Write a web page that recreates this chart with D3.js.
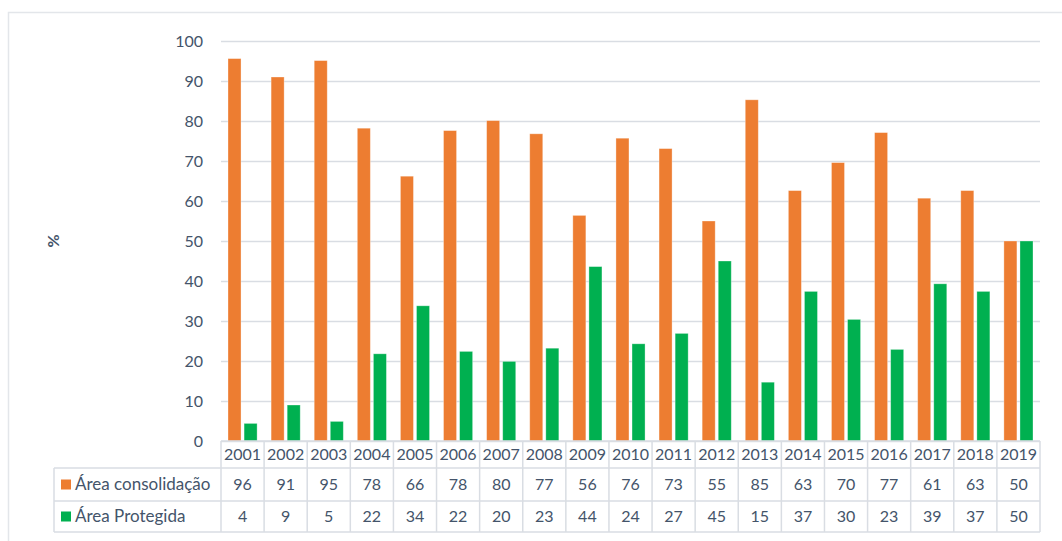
<!DOCTYPE html>
<html>
<head>
<meta charset="utf-8">
<script src="https://cdn.jsdelivr.net/npm/d3@7"></script>
<style>
	body { margin: 0; background: #fff; }
	text { font-family: Lato, "Open Sans", sans-serif; fill: #44546a; }
</style>
</head>
<body>
<div id="chart"></div>
<script>
"use strict";

const years = ['2001', '2002', '2003', '2004', '2005', '2006', '2007', '2008', '2009', '2010',
	'2011', '2012', '2013', '2014', '2015', '2016', '2017', '2018', '2019'];
const seriesNames = ['Área consolidação', 'Área Protegida'];
const seriesColors = ['#ed7d31', '#00b050'];
// bar heights (table shows them rounded)
const consolidacao = [95.6, 91.0, 95.1, 78.2, 66.2, 77.6, 80.1, 76.8, 56.4, 75.7,
	73.1, 55.0, 85.3, 62.6, 69.6, 77.1, 60.7, 62.6, 50.0];
const protegida = [4.4, 9.0, 4.9, 21.8, 33.8, 22.4, 19.9, 23.2, 43.6, 24.3,
	26.9, 45.0, 14.7, 37.4, 30.4, 22.9, 39.3, 37.4, 50.0];
const yTicks = [0, 10, 20, 30, 40, 50, 60, 70, 80, 90, 100];

const series = [consolidacao, protegida];

const W = 1062, H = 541;
const PLOT = { left: 221, right: 1040, top: 41, bottom: 441 };
const TABLE = { left: 54, rowH: [27, 33, 31] };
const GRID = '#d9dde3';

const svg = d3.select('#chart').append('svg')
	.attr('width', W)
	.attr('height', H);

// outer frame
svg.append('path')
	.attr('d', `M8.5,${H}V12.5H${W}`)
	.attr('fill', 'none')
	.attr('stroke', '#e3e6ea')
	.attr('stroke-width', 1.5);

const x = d3.scaleBand()
	.domain(years)
	.range([PLOT.left, PLOT.right]);

const bw = x.bandwidth();
const x1 = d3.scaleBand()
	.domain(d3.range(series.length))
	.range([7, bw - 7])
	.paddingInner(0.19);

const y = d3.scaleLinear()
	.domain([0, 100])
	.range([PLOT.bottom, PLOT.top]);

// grid + y labels
const yAxis = svg.append('g')
	.attr('transform', `translate(${PLOT.left},0)`)
	.call(d3.axisLeft(y).tickValues(yTicks).tickSize(-(PLOT.right - PLOT.left)).tickPadding(18));
yAxis.select('.domain').remove();
yAxis.selectAll('.tick line').attr('stroke', GRID).attr('stroke-width', 1.5);
yAxis.selectAll('.tick text')
	.attr('font-size', 16)
	.attr('font-family', 'Lato, sans-serif')
	.attr('fill', '#44546a');

svg.append('text')
	.attr('transform', `translate(59,${y(50)}) rotate(-90)`)
	.attr('text-anchor', 'middle')
	.attr('font-size', 16)
	.attr('font-weight', 'bold')
	.text('%');

// bars
series.forEach((vals, si) => {
	svg.append('g')
		.selectAll('rect')
		.data(vals)
		.join('rect')
		.attr('x', (d, i) => x(years[i]) + x1(si))
		.attr('y', d => y(d))
		.attr('width', x1.bandwidth())
		.attr('height', d => y(0) - y(d))
		.attr('fill', seriesColors[si])
		.attr('stroke', '#fff')
		.attr('stroke-opacity', 0.4)
		.attr('stroke-width', 0.8);
});

// data table
const rowY = [PLOT.bottom];
TABLE.rowH.forEach(h => rowY.push(rowY[rowY.length - 1] + h));
const tbl = svg.append('g').attr('stroke', GRID).attr('stroke-width', 1.5);

tbl.append('line')
	.attr('x1', PLOT.left).attr('x2', PLOT.right)
	.attr('y1', rowY[0]).attr('y2', rowY[0]);
rowY.slice(1).forEach(ry => {
	tbl.append('line')
		.attr('x1', TABLE.left).attr('x2', PLOT.right)
		.attr('y1', ry).attr('y2', ry);
});
tbl.append('line')
	.attr('x1', TABLE.left).attr('x2', TABLE.left)
	.attr('y1', rowY[1]).attr('y2', rowY[3]);
years.concat(['end']).forEach((yr, i) => {
	const xx = PLOT.left + i * bw;
	tbl.append('line')
		.attr('x1', xx).attr('x2', xx)
		.attr('y1', rowY[0]).attr('y2', rowY[3]);
});

const mid = i => (rowY[i] + rowY[i + 1]) / 2;

svg.append('g')
	.selectAll('text')
	.data(years)
	.join('text')
	.attr('x', d => x(d) + bw / 2)
	.attr('y', mid(0))
	.attr('dy', '0.35em')
	.attr('text-anchor', 'middle')
	.attr('font-size', 16)
	.text(d => d);

const fmt = d3.format('.0f');
series.forEach((vals, si) => {
	const g = svg.append('g');
	g.selectAll('text')
		.data(vals)
		.join('text')
		.attr('x', (d, i) => x(years[i]) + bw / 2)
		.attr('y', mid(si + 1))
		.attr('dy', '0.35em')
		.attr('text-anchor', 'middle')
		.attr('font-size', 16)
		.text(d => fmt(d));
	g.append('rect')
		.attr('x', 61)
		.attr('y', mid(si + 1) - 5)
		.attr('width', 10)
		.attr('height', 10)
		.attr('fill', seriesColors[si]);
	g.append('text')
		.attr('x', 75)
		.attr('y', mid(si + 1))
		.attr('dy', '0.35em')
		.attr('font-size', 17)
		.text(seriesNames[si]);
});
</script>
</body>
</html>
